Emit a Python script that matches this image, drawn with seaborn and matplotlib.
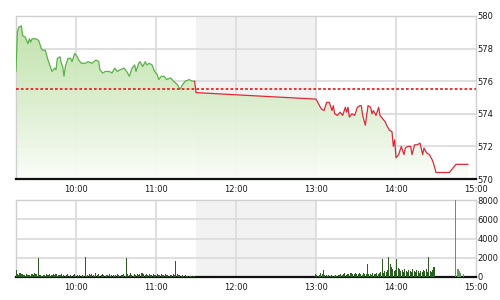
import numpy as np
import pandas as pd
import matplotlib
matplotlib.use("Agg")
import matplotlib.pyplot as plt
from matplotlib.colors import LinearSegmentedColormap
import seaborn as sns

# ---------------- data ----------------
ref_price = 575.5

morning_times = ["09:15", "09:16", "09:17", "09:19", "09:20", "09:22", "09:24", "09:25", "09:26", "09:27",
                 "09:29", "09:30", "09:32", "09:34", "09:35", "09:37", "09:39", "09:42", "09:44", "09:45",
                 "09:46", "09:48", "09:49", "09:50", "09:51", "09:52", "09:54", "09:56", "09:57", "09:59",
                 "10:01", "10:02", "10:04", "10:07", "10:09", "10:12", "10:15", "10:17", "10:18", "10:20",
                 "10:22", "10:25", "10:27", "10:29", "10:31", "10:33", "10:36", "10:38", "10:40", "10:42",
                 "10:44", "10:45", "10:47", "10:48", "10:50", "10:52", "10:53", "10:55", "10:57", "10:59",
                 "11:01", "11:02", "11:04", "11:06", "11:08", "11:11", "11:13", "11:16", "11:18", "11:20",
                 "11:22", "11:25", "11:27", "11:29"]
morning_prices = [576.6, 579.0, 579.3, 579.4, 578.8, 578.7, 578.3, 578.6, 578.4, 578.6,
                  578.6, 578.6, 578.5, 578.0, 577.9, 577.9, 577.3, 576.6, 576.8, 576.7,
                  577.4, 577.5, 577.1, 576.9, 576.3, 576.9, 577.4, 577.4, 577.2, 577.7,
                  577.5, 577.3, 577.1, 577.1, 577.2, 577.1, 577.3, 577.2, 576.7, 576.5,
                  576.6, 576.6, 576.5, 576.8, 576.6, 576.7, 576.8, 576.6, 576.3, 576.8,
                  577.0, 576.6, 577.1, 577.2, 576.9, 577.2, 577.0, 577.1, 577.0, 576.6,
                  576.4, 576.1, 576.3, 576.3, 576.1, 576.2, 576.0, 575.8, 575.5, 575.8,
                  576.0, 576.1, 576.0, 576.0]

afternoon_times = ["11:29", "11:30", "13:00", "13:04", "13:06", "13:08", "13:10", "13:12", "13:13", "13:14",
                   "13:16", "13:18", "13:20", "13:22", "13:23", "13:24", "13:25", "13:27", "13:29", "13:31",
                   "13:33", "13:34", "13:35", "13:37", "13:39", "13:41", "13:42", "13:43", "13:45", "13:47",
                   "13:48", "13:50", "13:52", "13:53", "13:55", "13:57", "13:58", "13:59", "14:00", "14:02",
                   "14:04", "14:06", "14:07", "14:09", "14:11", "14:12", "14:14", "14:16", "14:18", "14:20",
                   "14:21", "14:23", "14:25", "14:27", "14:28", "14:30", "14:35", "14:40", "14:45", "14:54"]
afternoon_prices = [576.0, 575.3, 574.9, 574.3, 574.2, 574.7, 574.7, 574.2, 574.5, 574.0,
                    573.9, 574.1, 573.9, 574.4, 574.1, 574.4, 573.8, 574.0, 573.9, 574.4,
                    574.5, 574.5, 573.9, 573.3, 574.5, 574.4, 574.0, 574.2, 573.9, 574.4,
                    573.9, 573.7, 573.5, 573.3, 573.0, 572.9, 572.0, 572.4, 571.3, 571.5,
                    572.0, 571.5, 571.9, 572.0, 572.0, 571.5, 572.1, 572.1, 572.2, 571.5,
                    571.9, 571.6, 571.5, 571.2, 571.0, 570.4, 570.4, 570.4, 570.9, 570.9]

# volume, one bar per minute
vol_morning_start = "09:15"
vol_morning = [700, 300, 200, 400, 350, 300, 250, 150, 300, 200,
               250, 150, 350, 200, 450, 300, 150, 1950, 200, 100,
               150, 250, 100, 300, 200, 350, 150, 250, 300, 200,
               350, 150, 250, 200, 300, 100, 250, 150, 200, 300,
               150, 250, 100, 200, 300, 150, 200, 100, 250, 150,
               200, 100, 2100, 150, 250, 300, 200, 350, 250, 150,
               400, 200, 300, 150, 250, 350, 200, 150, 250, 200,
               300, 150, 250, 200, 100, 250, 300, 200, 150, 250,
               200, 350, 150, 1950, 300, 200, 400, 250, 150, 300,
               200, 350, 250, 300, 400, 450, 300, 250, 350, 200,
               300, 250, 200, 350, 250, 200, 300, 250, 200, 350,
               250, 200, 300, 250, 200, 150, 250, 200, 300, 250,
               1700, 300, 250, 200, 150, 200, 150, 200, 150, 100,
               150, 100, 150, 100, 150]
vol_afternoon_start = "13:00"
vol_afternoon = [300, 200, 150, 250, 400, 300, 700, 250, 200, 150,
                 250, 150, 200, 100, 150, 200, 150, 250, 200, 300,
                 250, 300, 400, 250, 350, 300, 450, 400, 350, 300,
                 400, 350, 300, 450, 300, 250, 400, 350, 300, 1300,
                 350, 300, 250, 400, 350, 300, 450, 350, 400, 500,
                 1900, 400, 600, 500, 700, 2100, 1400, 1000, 800, 600,
                 700, 1900, 900, 800, 600, 700, 500, 800, 600, 500,
                 700, 600, 500, 800, 600, 500, 700, 600, 400, 600,
                 500, 700, 600, 800, 500, 2100, 600, 500, 700, 1000]
vol_late_times = ["14:45", "14:47", "14:48", "14:49", "14:51"]
vol_late = [8000, 800, 600, 400, 300]

hour_ticks = [10, 11, 12, 13, 14, 15]
hour_labels = ["10:00", "11:00", "12:00", "13:00", "14:00", "15:00"]
price_ticks = [570, 572, 574, 576, 578, 580]
vol_ticks = [0, 2000, 4000, 6000, 8000]


def to_hours(t):
    h, m = t.split(":")
    return int(h) + int(m) / 60.0


def minute_series(start, n):
    s = to_hours(start)
    return [s + i / 60.0 for i in range(n)]


df_m = pd.DataFrame({"t": [to_hours(t) for t in morning_times], "p": morning_prices})
df_a = pd.DataFrame({"t": [to_hours(t) for t in afternoon_times], "p": afternoon_prices})
df_all = pd.concat([df_m, df_a.iloc[1:]], ignore_index=True)

vol_t = minute_series(vol_morning_start, len(vol_morning)) + minute_series(vol_afternoon_start, len(vol_afternoon))
vol_v = vol_morning + vol_afternoon
df_v = pd.DataFrame({"t": vol_t, "v": vol_v})
df_v_late = pd.DataFrame({"t": [to_hours(t) for t in vol_late_times], "v": vol_late})

# ---------------- figure ----------------
sns.set_theme(style="white")
plt.rcParams["font.family"] = ["DejaVu Sans"]

fig = plt.figure(figsize=(5, 3), dpi=100)
ax1 = fig.add_axes([0.032, 0.4033, 0.92, 0.5434])
ax2 = fig.add_axes([0.032, 0.0767, 0.92, 0.2566])

xmin, xmax = to_hours("09:15"), 15.0
grid_c = "#dcdcdc"
shade_c = "#f2f2f2"

for ax in (ax1, ax2):
    ax.set_facecolor("white")
    ax.axvspan(11.5, 13.0, color=shade_c, zorder=0, lw=0)
    for h in hour_ticks[:-1]:
        ax.axvline(h, color=grid_c, lw=1.3, zorder=0.5)
    ax.set_xlim(xmin, xmax)
    for s in ("left", "top", "right"):
        ax.spines[s].set_color("#d0d0d0")
        ax.spines[s].set_linewidth(1.0)
    ax.spines["bottom"].set_color("#111111")
    ax.spines["bottom"].set_linewidth(1.6)
    ax.yaxis.tick_right()
    ax.set_xticks(hour_ticks)
    ax.set_xticklabels(hour_labels)
    ax.tick_params(axis="both", length=0, labelsize=6, colors="#1a1a1a")
    ax.tick_params(axis="y", pad=1.2)
    ax.tick_params(axis="x", pad=4)

# --- price panel ---
for v in price_ticks[1:-1]:
    ax1.axhline(v, color=grid_c, lw=1.3, zorder=0.5)

# gradient fill under the line
poly = ax1.fill_between(df_all["t"], df_all["p"], 570, color="none", lw=0)
grad = np.linspace(0, 1, 256).reshape(-1, 1)
cmap = LinearSegmentedColormap.from_list("g", ["#fbfdf9", "#d9edcb", "#b9e0a3"])
img = ax1.imshow(grad, extent=[xmin, xmax, 570, 580], origin="lower", aspect="auto",
                 cmap=cmap, alpha=0.95, zorder=1)
img.set_clip_path(poly.get_paths()[0], transform=ax1.transData)

sns.lineplot(data=df_m, x="t", y="p", ax=ax1, color="#5cb14a", lw=0.9, zorder=3, sort=False)
sns.lineplot(data=df_a, x="t", y="p", ax=ax1, color="#e0283c", lw=0.9, zorder=3, sort=False)
ax1.axhline(ref_price, color="#ee2222", lw=1.3, ls=(0, (1.5, 1.2)), zorder=4)
ax1.set_xlabel("")
ax1.set_ylabel("")
ax1.set_xlim(xmin, xmax)
ax1.set_ylim(570, 580)
ax1.set_yticks(price_ticks)
ax1.set_yticklabels([str(v) for v in price_ticks])

# --- volume panel ---
for v in vol_ticks[1:-1]:
    ax2.axhline(v, color=grid_c, lw=1.3, zorder=0.5)

bw = 1 / 60.0
sns.histplot(data=df_v, x="t", weights="v", binwidth=bw, binrange=(xmin - bw / 2, 15.0),
             ax=ax2, color="#2c5f22", edgecolor="none", alpha=1.0, shrink=0.85, zorder=3)
sns.histplot(data=df_v_late, x="t", weights="v", binwidth=bw, binrange=(xmin - bw / 2, 15.0),
             ax=ax2, color="#5f9a55", edgecolor="none", alpha=1.0, shrink=0.9, zorder=3)
ax2.set_xlabel("")
ax2.set_ylabel("")
ax2.set_xlim(xmin, xmax)
ax2.set_ylim(0, 8000)
ax2.set_yticks(vol_ticks)
ax2.set_yticklabels([str(v) for v in vol_ticks])

fig.savefig("out.png", dpi=100)
